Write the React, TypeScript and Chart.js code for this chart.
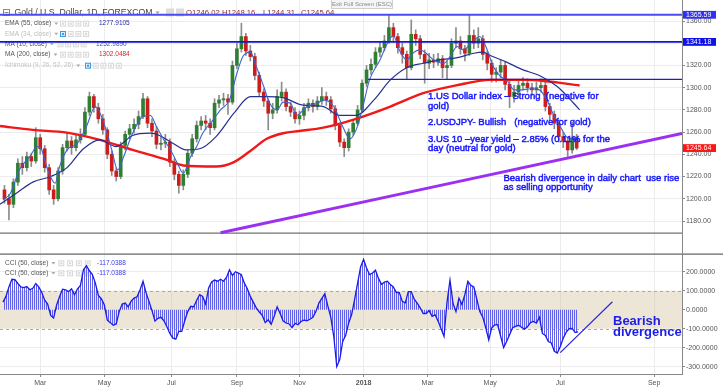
import React, { useEffect, useRef } from 'react';
import { Chart, registerables } from 'chart.js';
Chart.register(...registerables);

const FONT = "'Liberation Sans', Arial, Helvetica, sans-serif";

// x unit: trading-day index
const X_MIN = -2;
const X_MAX = 455.7;
const monthTickDays = [25, 68, 113, 157, 199, 242, 285, 327, 374, 437];
const monthTickLabels = ['Mar', 'May', 'Jul', 'Sep', 'Nov', '2018', 'Mar', 'May', 'Jul', 'Sep'];

const priceTicks = [1360, 1340, 1320, 1300, 1280, 1260, 1240, 1220, 1200, 1180];
const PRICE_MIN = 1149.4;
const PRICE_MAX = 1378.9;
const cciTicks = [200, 100, 0, -100, -200, -300];
const CCI_MIN = -338.4;
const CCI_MAX = 288;

// candles: one every 3 trading days
const CANDLE_START = 1;
const CANDLE_STEP = 3;
const firstOpen = 1208;
const closes = [1200, 1195, 1215, 1232, 1228, 1238, 1234, 1255, 1245, 1228,
  1208, 1200, 1225, 1246, 1252, 1246, 1253, 1258, 1278, 1292,
  1282, 1272, 1262, 1240, 1225, 1220, 1248, 1258, 1263, 1267,
  1274, 1290, 1268, 1261, 1249, 1250, 1251, 1233, 1222, 1212,
  1222, 1241, 1254, 1266, 1270, 1268, 1264, 1286, 1289, 1290,
  1287, 1320, 1335, 1346, 1333, 1328, 1311, 1296, 1288, 1277,
  1280, 1292, 1296, 1283, 1278, 1272, 1275, 1282, 1286, 1283,
  1288, 1292, 1289, 1281, 1266, 1251, 1246, 1260, 1268, 1280,
  1304, 1316, 1321, 1332, 1336, 1342, 1354, 1346, 1336, 1330,
  1318, 1348, 1344, 1330, 1322, 1325, 1323, 1326, 1318, 1320,
  1340, 1342, 1335, 1331, 1347, 1340, 1344, 1330, 1322, 1312,
  1314, 1320, 1303, 1292, 1296, 1302, 1304, 1300, 1298, 1300,
  1302, 1283, 1276, 1268, 1256, 1252, 1244, 1255, 1245.64];
const highs = [1212, 1204, 1218, 1236, 1238, 1242, 1241, 1264, 1258, 1248,
  1231, 1212, 1228, 1249, 1259, 1256, 1257, 1263, 1282, 1296,
  1294, 1286, 1276, 1264, 1243, 1228, 1251, 1261, 1267, 1272,
  1279, 1295, 1292, 1272, 1265, 1256, 1258, 1254, 1236, 1225,
  1226, 1244, 1258, 1270, 1274, 1275, 1272, 1290, 1293, 1295,
  1294, 1324, 1340, 1358, 1349, 1338, 1331, 1314, 1299, 1290,
  1286, 1298, 1305, 1299, 1287, 1282, 1279, 1286, 1290, 1289,
  1292, 1300, 1296, 1292, 1284, 1268, 1254, 1263, 1271, 1284,
  1307, 1320, 1326, 1336, 1341, 1347, 1365, 1358, 1349, 1340,
  1333, 1361, 1352, 1347, 1334, 1331, 1330, 1331, 1329, 1324,
  1344, 1354, 1346, 1338, 1365, 1352, 1354, 1347, 1333, 1325,
  1318, 1325, 1323, 1306, 1302, 1306, 1309, 1308, 1304, 1305,
  1308, 1305, 1286, 1279, 1271, 1260, 1255, 1269, 1258];
const lows = [1196, 1181, 1192, 1212, 1222, 1225, 1229, 1232, 1240, 1224,
  1204, 1195, 1198, 1222, 1243, 1240, 1243, 1250, 1256, 1275,
  1278, 1268, 1258, 1236, 1221, 1216, 1218, 1244, 1254, 1259,
  1263, 1272, 1264, 1256, 1245, 1244, 1246, 1229, 1217, 1205,
  1208, 1219, 1238, 1251, 1262, 1262, 1258, 1262, 1282, 1284,
  1276, 1285, 1317, 1332, 1329, 1324, 1307, 1292, 1283, 1262,
  1272, 1277, 1288, 1279, 1274, 1268, 1267, 1271, 1279, 1278,
  1280, 1285, 1284, 1277, 1262, 1247, 1238, 1243, 1257, 1266,
  1278, 1301, 1312, 1318, 1328, 1333, 1340, 1341, 1331, 1322,
  1308, 1316, 1338, 1326, 1304, 1317, 1318, 1320, 1309, 1308,
  1318, 1336, 1330, 1324, 1329, 1335, 1336, 1325, 1316, 1305,
  1305, 1309, 1298, 1282, 1287, 1292, 1298, 1296, 1293, 1294,
  1296, 1279, 1271, 1263, 1251, 1246, 1238, 1241, 1244.31];

const ma200Days = [-2, 20, 43, 65, 87, 110, 121, 143, 155, 166, 177, 188, 199, 215, 237, 260, 282, 304, 327, 349, 363, 387];
const ma200Vals = [1265.5, 1262, 1259.5, 1253, 1244, 1235, 1230, 1229, 1233, 1243, 1254, 1259, 1261, 1264, 1272, 1283, 1295, 1302, 1307, 1307, 1306, 1302];

const ema55Days = [-2, 9, 20, 32, 43, 54, 65, 76, 87, 99, 105, 114, 123, 132, 143, 155, 166, 177, 188, 199, 204, 215, 226, 237, 249, 260, 271, 282, 293, 305, 316, 322, 327, 338, 349, 360, 372, 383, 387];
const ema55Vals = [1195, 1205, 1215, 1220, 1228, 1245, 1253, 1247, 1257, 1259, 1257, 1250, 1244, 1245, 1256, 1277, 1292, 1292, 1291, 1285, 1284, 1283, 1275, 1275, 1289, 1307, 1318, 1322, 1325, 1327, 1331, 1332, 1329, 1323, 1316, 1311, 1301, 1286, 1280];

const ma10Days = [0, 5, 11, 18, 23, 26, 30, 35, 38, 43, 50, 56, 62, 67, 73, 77, 81, 87, 94, 99, 103, 108, 112, 117, 121, 126, 130, 134, 141, 146, 152, 157, 161, 166, 170, 175, 179, 184, 188, 193, 197, 204, 211, 215, 222, 228, 233, 237, 241, 246, 253, 258, 262, 266, 271, 275, 280, 284, 289, 296, 300, 305, 309, 316, 320, 325, 329, 334, 338, 343, 347, 354, 360, 365, 369, 374, 378, 383, 387];
const ma10Vals = [1199, 1205, 1226, 1238, 1247, 1244, 1226, 1214, 1229, 1244, 1250, 1265, 1283, 1271, 1244, 1226, 1238, 1259, 1274, 1275, 1265, 1253, 1245, 1232, 1223, 1238, 1247, 1259, 1271, 1280, 1289, 1313, 1328, 1332, 1319, 1301, 1286, 1280, 1287, 1286, 1275, 1283, 1286, 1289, 1283, 1265, 1254, 1262, 1280, 1307, 1325, 1340, 1347, 1334, 1325, 1331, 1334, 1331, 1325, 1322, 1328, 1337, 1334, 1343, 1346, 1334, 1319, 1310, 1307, 1298, 1298, 1299, 1298, 1289, 1277, 1265, 1256, 1253, 1252];

// drawn levels
const levelValues = [1365.59, 1341.18, 1307.5];
const levelStartDays = [-2, -2, 245];
const levelColors = ['#4b4bef', '#1414d6', '#1c1cd0'];
const levelWidths = [2, 1.6, 1.2];
const baseLineValue = 1169;
const trendDays = [146, 455.7];
const trendVals = [1169.5, 1258.8];

// CCI(50): one value every 2 trading days
const CCI_STEP = 2;
const cciVals = [40, 70, 120, 160, 158, 138, 120, 116, 122, 105,
  113, 138, 120, 92, 50, 30, -30, -44, 25, 70,
  108, 105, 95, 110, 79, 110, 128, 210, 232, 205,
  185, 140, 75, 58, 26, -55, -68, -82, -75, -10,
  30, 35, 15, 45, 61, 68, 105, 150, 90, 44,
  -5, -60, -45, -40, -58, -90, -125, -150, -155, -114,
  -114, -58, -10, 18, 15, 50, 79, 70, 30, 114,
  146, 156, 150, 160, 150, 170, 210, 180, 200, 193,
  184, 140, 110, 70, 40, 10, -12, -30, -68, -53,
  -77, -35, 15, -20, -60, -70, -75, -95, -72, -79,
  -62, -55, -58, -50, -40, -10, 35, 60, 85, 20,
  -40, -140, -300, -262, -167, -135, -70, -25, 55, 140,
  225, 265, 220, 185, 193, 208, 165, 134, 145, 150,
  132, 120, 90, 90, 44, 36, 95, 95, 55, 35,
  10, -20, -20, -5, -35, -27, -60, -100, -140, 40,
  155, 35, -10, 60, 28, 80, 150, 128, 120, 55,
  -10, -40, -95, -160, -96, -80, -79, -140, -200, -167,
  -132, -95, -88, -82, -92, -102, -90, -68, -62, -70,
  -40, -125, -135, -168, -175, -219, -228, -195, -150, -118,
  -100, -98, -120, -117];
const cciTrendDays = [374, 409];
const cciTrendVals = [-226, 42];

const priceBoxes = [
  { v: 1365.59, c: '#2f2ff5' },
  { v: 1341.18, c: '#1010e8' },
  { v: 1245.64, c: '#ff1414' },
];

function t(ctx: any, s: string, x: number, y: number, font: string, color: string, align = 'left', stroke = 0) {
  ctx.font = font;
  ctx.fillStyle = color;
  ctx.textAlign = align;
  ctx.textBaseline = 'middle';
  ctx.fillText(s, x, y);
  if (stroke > 0) {
    ctx.strokeStyle = color;
    ctx.lineWidth = stroke;
    ctx.strokeText(s, x, y);
  }
  return ctx.measureText(s).width;
}
function caret(ctx: any, x: number, y: number, color = '#999') {
  ctx.fillStyle = color;
  ctx.beginPath();
  ctx.moveTo(x, y - 1.2);
  ctx.lineTo(x + 4, y - 1.2);
  ctx.lineTo(x + 2, y + 1.3);
  ctx.closePath();
  ctx.fill();
}
function boxes(ctx: any, x0: number, y: number, n: number, pitch: number, blueFirst: boolean) {
  for (let i = 0; i < n; i++) {
    ctx.fillStyle = i === 0 && blueFirst ? '#3f9ae6' : '#dadada';
    ctx.fillRect(x0 + i * pitch, y - 3, 6, 6);
    ctx.strokeStyle = '#fff';
    ctx.lineWidth = 0.8;
    ctx.strokeRect(x0 + i * pitch + 1.5, y - 1.5, 3, 3);
  }
}
function noPad(s: any) {
  s.paddingTop = 0;
  s.paddingBottom = 0;
  s.paddingLeft = 0;
  s.paddingRight = 0;
}

const legendRows = [
  { label: 'EMA (55, close)', y: 23.7, color: '#555', bx: 60, n: 4, blue: false, value: '1277.9105', vx: 99, vc: '#2b2b9e' },
  { label: 'EMA (34, close)', y: 34, color: '#bdbdbd', bx: 60, n: 4, blue: true, value: '', vx: 0, vc: '' },
  { label: 'MA (10, close)', y: 44.3, color: '#555', bx: 57.5, n: 4, blue: false, value: '1252.9890', vx: 96, vc: '#3454c8' },
  { label: 'MA (200, close)', y: 54.7, color: '#555', bx: 60, n: 4, blue: false, value: '1302.0484', vx: 99, vc: '#e32222' },
  { label: 'Ichimoku (9, 26, 52, 26)', y: 65.7, color: '#c4c4c4', bx: 85, n: 5, blue: true, value: '', vx: 0, vc: '' },
];

const notes = [
  { s: '1.US Dollar index \u2013 Strong  (negative for', x: 428, y: 96.7 },
  { s: 'gold)', x: 428, y: 106.3 },
  { s: '2.USDJPY- Bullish   (negative for gold)', x: 428, y: 122.3 },
  { s: '3.US 10 \u2013year yield \u2013 2.85% (0.11% for the', x: 428, y: 139.3 },
  { s: 'day (neutral for gold)', x: 428, y: 148.3 },
  { s: 'Bearish divergence in daily chart  use rise', x: 503.5, y: 178.5 },
  { s: 'as selling opportunity', x: 503.5, y: 187.5 },
];

export default function App() {
  const topRef = useRef<HTMLCanvasElement>(null);
  const botRef = useRef<HTMLCanvasElement>(null);

  useEffect(() => {
    const candleDays = closes.map((_, i) => CANDLE_START + i * CANDLE_STEP);
    const opens = closes.map((c, i) => (i === 0 ? firstOpen : closes[i - 1]));
    const bodyColors = closes.map((c, i) => (c >= opens[i] ? '#2f7f33' : '#cc1c1c'));

    const topPlugin = {
      id: 'topDecor',
      beforeDatasetsDraw(chart: any) {
        const ctx = chart.ctx;
        ctx.save();
        // title row
        ctx.strokeStyle = '#8a8a8a';
        ctx.lineWidth = 1;
        ctx.strokeRect(3.5, 9.5, 6, 6);
        ctx.beginPath(); ctx.moveTo(4.5, 12.5); ctx.lineTo(8.5, 12.5); ctx.stroke();
        const w = t(ctx, 'Gold / U.S. Dollar, 1D, FOREXCOM', 14.5, 12.6, `8.7px ${FONT}`, '#444');
        caret(ctx, 14.5 + w + 3, 12.6);
        ctx.fillStyle = '#dcdcdc';
        ctx.fillRect(166, 8.5, 8, 8);
        ctx.fillRect(176, 8.5, 8, 8);
        const ohlc = [['O1246.02', 186], ['H1248.16', 222], ['L1244.31', 263], ['C1245.64', 301]];
        ohlc.forEach(([s, x]) => t(ctx, s as string, x as number, 12.6, `7.7px ${FONT}`, '#8a2b2b'));
        legendRows.forEach((r) => {
          const lw = t(ctx, r.label, 5, r.y, `6.5px ${FONT}`, r.color);
          caret(ctx, 5 + lw + 3, r.y, '#aaa');
          boxes(ctx, r.bx, r.y, r.n, 7.7, r.blue);
          if (r.value) t(ctx, r.value, r.vx, r.y, `6.5px ${FONT}`, r.vc);
        });
        ctx.restore();
      },
      afterDatasetsDraw(chart: any) {
        const ctx = chart.ctx;
        ctx.save();
        notes.forEach((n) => t(ctx, n.s, n.x, n.y, `9.5px ${FONT}`, '#1616ff', 'left', 0.45));
        ctx.restore();
      },
      afterDraw(chart: any) {
        const ctx = chart.ctx;
        const ys = chart.scales.y;
        ctx.save();
        priceBoxes.forEach((b) => {
          const y = ys.getPixelForValue(b.v);
          ctx.fillStyle = b.c;
          ctx.fillRect(683, y - 3.9, 33, 7.8);
          t(ctx, b.v.toFixed(2), 686, y + 0.3, `7px ${FONT}`, '#fff');
        });
        // tooltip box
        ctx.fillStyle = '#f5f5f5';
        ctx.fillRect(331.5, -1, 61, 9.5);
        ctx.strokeStyle = '#cfcfcf';
        ctx.lineWidth = 1;
        ctx.strokeRect(331.5, -1, 61, 9.5);
        t(ctx, 'Exit Full Screen (ESC)', 362, 4.2, `6px ${FONT}`, '#888', 'center');
        // pane separator
        ctx.fillStyle = '#8e8e8e';
        ctx.fillRect(0, 253.3, 723, 1.7);
        ctx.restore();
      },
    };

    const lineDs = (days: number[], vals: number[], color: string, width: number, order: number) => ({
      type: 'line',
      data: days.map((d, i) => ({ x: d, y: vals[i] })),
      borderColor: color,
      borderWidth: width,
      pointRadius: 0,
      fill: false,
      cubicInterpolationMode: 'monotone',
      order,
    });

    const topChart = new Chart(topRef.current as any, {
      type: 'bar',
      data: {
        datasets: [
          {
            type: 'bar',
            data: candleDays.map((d, i) => ({ x: d, y: [lows[i], highs[i]] })),
            backgroundColor: '#8c8c8c',
            barThickness: 1,
            grouped: false,
            order: 20,
          },
          {
            type: 'bar',
            data: candleDays.map((d, i) => ({ x: d, y: [opens[i], closes[i]] })),
            backgroundColor: bodyColors,
            barThickness: 3,
            minBarLength: 1,
            grouped: false,
            order: 19,
          },
          lineDs(ma200Days, ma200Vals, '#f01818', 2.4, 8),
          lineDs(ema55Days, ema55Vals, '#26308f', 1.2, 7),
          lineDs(ma10Days, ma10Vals, '#3f63cc', 1.1, 6),
          ...levelValues.map((v, i) => lineDs([levelStartDays[i], X_MAX], [v, v], levelColors[i], levelWidths[i], 3)),
          lineDs([X_MIN, X_MAX], [baseLineValue, baseLineValue], '#707070', 1.2, 3),
          lineDs(trendDays, trendVals, '#9b2ff2', 3, 2),
        ] as any,
      },
      options: {
        responsive: false,
        maintainAspectRatio: false,
        animation: false,
        events: [],
        layout: { padding: 0 },
        plugins: { legend: { display: false }, tooltip: { enabled: false } },
        scales: {
          x: {
            type: 'linear',
            min: X_MIN,
            max: X_MAX,
            offset: false,
            afterBuildTicks: (s: any) => { s.ticks = monthTickDays.map((v) => ({ value: v })); },
            afterFit: (s: any) => { s.height = 0; noPad(s); },
            ticks: { display: false },
            grid: { color: '#ececec', drawTicks: false, offset: false },
            border: { display: false },
          },
          y: {
            position: 'right',
            min: PRICE_MIN,
            max: PRICE_MAX,
            afterBuildTicks: (s: any) => { s.ticks = priceTicks.map((v) => ({ value: v })); },
            afterFit: (s: any) => { s.width = 41; noPad(s); },
            ticks: { callback: (v: any) => Number(v).toFixed(2), font: { family: FONT, size: 7 }, color: '#555', padding: 1 },
            grid: { color: '#ececec', tickLength: 3, tickColor: '#888' },
            border: { color: '#888' },
          },
        },
      } as any,
      plugins: [topPlugin],
    });

    // CCI pane
    const bctx = (botRef.current as any).getContext('2d');
    const hc = document.createElement('canvas');
    hc.width = 2; hc.height = 4;
    const hg = hc.getContext('2d') as any;
    hg.fillStyle = '#6262e6';
    hg.fillRect(0, 0, 1, 4);
    const hatch = bctx.createPattern(hc, 'repeat');

    const botPlugin = {
      id: 'botDecor',
      beforeDatasetsDraw(chart: any) {
        const ctx = chart.ctx;
        const { left, right } = chart.chartArea;
        const ys = chart.scales.y;
        const y1 = ys.getPixelForValue(100);
        const y2 = ys.getPixelForValue(-100);
        ctx.save();
        ctx.fillStyle = 'rgba(205,185,140,0.36)';
        ctx.fillRect(left, y1, right - left, y2 - y1);
        ctx.strokeStyle = '#a9a9a9';
        ctx.lineWidth = 1;
        ctx.setLineDash([3, 3]);
        [y1, y2].forEach((y) => {
          ctx.beginPath(); ctx.moveTo(left, Math.round(y) + 0.5); ctx.lineTo(right, Math.round(y) + 0.5); ctx.stroke();
        });
        ctx.setLineDash([]);
        [8.3, 18.3].forEach((y) => {
          const lw = t(ctx, 'CCI (50, close)', 5, y, `6.5px ${FONT}`, '#555');
          caret(ctx, 5 + lw + 3, y, '#aaa');
          boxes(ctx, 58.3, y, 4, 8.8, false);
          t(ctx, '-117.0388', 97, y, `6.5px ${FONT}`, '#3a3af0');
        });
        ctx.restore();
      },
      afterDatasetsDraw(chart: any) {
        const ctx = chart.ctx;
        ctx.save();
        ctx.font = `bold 13px ${FONT}`;
        ctx.fillStyle = '#1c1ce8';
        ctx.textAlign = 'left';
        ctx.textBaseline = 'alphabetic';
        ctx.fillText('Bearish', 613, 69.5);
        ctx.fillText('divergence', 613, 80.5);
        ctx.restore();
      },
    };

    const botChart = new Chart(botRef.current as any, {
      type: 'line',
      data: {
        datasets: [
          {
            data: cciVals.map((v, i) => ({ x: i * CCI_STEP, y: v })),
            borderColor: '#1c1ce6',
            borderWidth: 1.3,
            pointRadius: 0,
            backgroundColor: hatch,
            fill: 'origin',
            tension: 0,
            order: 2,
          },
          {
            data: cciTrendDays.map((d, i) => ({ x: d, y: cciTrendVals[i] })),
            borderColor: '#2828d8',
            borderWidth: 1.2,
            pointRadius: 0,
            fill: false,
            order: 1,
          },
        ] as any,
      },
      options: {
        responsive: false,
        maintainAspectRatio: false,
        animation: false,
        events: [],
        layout: { padding: 0 },
        plugins: { legend: { display: false }, tooltip: { enabled: false } },
        scales: {
          x: {
            type: 'linear',
            min: X_MIN,
            max: X_MAX,
            offset: false,
            afterBuildTicks: (s: any) => { s.ticks = monthTickDays.map((v) => ({ value: v })); },
            afterFit: (s: any) => { s.height = 17; noPad(s); },
            ticks: {
              callback: (v: any) => monthTickLabels[monthTickDays.indexOf(Number(v))] ?? '',
              font: (c: any) => ({ family: FONT, size: 7, weight: c.tick && c.tick.label === '2018' ? 'bold' : 'normal' }),
              color: '#555',
              maxRotation: 0,
              autoSkip: false,
              padding: 2,
            },
            grid: { color: '#ececec', tickLength: 3, tickColor: '#888', offset: false },
            border: { color: '#888' },
          },
          y: {
            position: 'right',
            min: CCI_MIN,
            max: CCI_MAX,
            afterBuildTicks: (s: any) => { s.ticks = cciTicks.map((v) => ({ value: v })); },
            afterFit: (s: any) => { s.width = 41; noPad(s); },
            ticks: { callback: (v: any) => Number(v).toFixed(4), font: { family: FONT, size: 7 }, color: '#555', padding: 1 },
            grid: {
              color: (c: any) => (c.tick && Math.abs(c.tick.value) <= 100 ? 'rgba(0,0,0,0)' : '#ececec'),
              tickLength: 3,
              tickColor: '#888',
            },
            border: { color: '#888' },
          },
        },
      } as any,
      plugins: [botPlugin],
    });

    return () => {
      topChart.destroy();
      botChart.destroy();
    };
  }, []);

  return (
    <div style={{ position: 'absolute', left: 0, top: 0, width: 723, height: 391, background: '#fff' }}>
      <canvas ref={topRef} width={723} height={255} style={{ display: 'block' }} />
      <canvas ref={botRef} width={723} height={136} style={{ display: 'block' }} />
    </div>
  );
}
